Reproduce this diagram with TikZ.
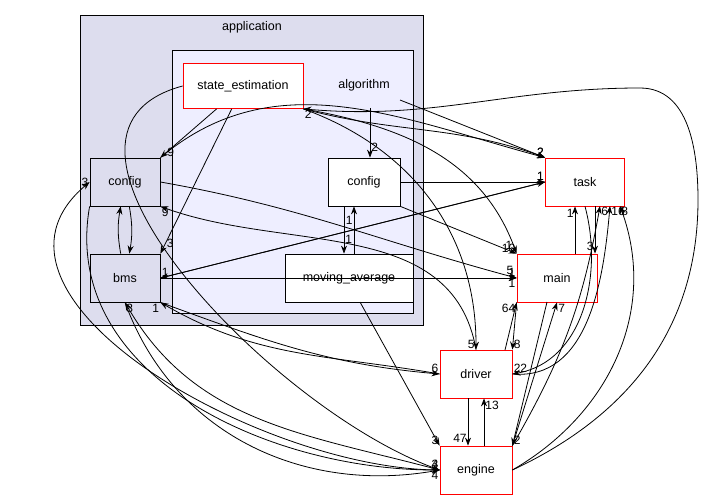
\documentclass[tikz,border=0pt]{standalone}
\usepackage{fontspec}
\setmainfont{Liberation Sans}
\usetikzlibrary{arrows.meta}
\definecolor{clusterfill}{HTML}{DDDDEE}
\definecolor{innerfill}{HTML}{EEEEFF}
\tikzset{
  dirbox/.style={draw=black, fill=white, minimum height=48pt, inner sep=2pt},
  redbox/.style={dirbox, draw=red},
  greybox/.style={dirbox, fill=clusterfill},
  dep/.style={-{Stealth[length=8pt,width=6pt]}, black},
  cnt/.style={font=\fontsize{12}{13}\selectfont, inner sep=1pt}
}
\begin{document}
\begin{tikzpicture}[x=1pt, y=-1pt, line width=0.8pt, every node/.style={font=\fontsize{12.5}{14}\selectfont}]

  \useasboundingbox (0,0) rectangle (703,500);

  % clusters
  \draw[fill=clusterfill] (80,15) rectangle (423,325);
  \node at (252,27) {application};
  \draw[fill=innerfill] (172,50) rectangle (413,313);
  \node (algo) at (364,85) {algorithm};

  % directories
  \node[redbox, minimum width=120pt, minimum height=45pt] (state) at (243,86) {state\_estimation};
  \node[greybox, minimum width=70pt] (cfgapp) at (125,182) {config};
  \node[greybox, minimum width=70pt] (bms) at (125,278) {bms};
  \node[dirbox, minimum width=72pt] (cfgalg) at (364,182) {config};
  \node[dirbox, minimum width=128pt] (mavg) at (349,278) {moving\_average};
  \node[redbox, minimum width=79pt] (task) at (585,182) {task};
  \node[redbox, minimum width=80pt] (main) at (557,278) {main};
  \node[redbox, minimum width=72pt] (driver) at (476,374) {driver};
  \node[redbox, minimum width=72pt] (engine) at (476,470) {engine};

  % dependencies
  \coordinate (a0) at (370,108);
  \draw[dep] (a0) -- (cfgalg.north -| a0) node[cnt, pos=.8, right] {2};
  \draw[dep] (400,100) -- (task.north west);
  \draw[dep] (state) -- (cfgapp.north east) node[cnt, pos=.9, right] {9};
  \draw[dep] (state) -- (bms.north east) node[cnt, pos=.93, right] {3};
  \draw[dep] (state.south east) to[out=-15,in=160] (task.north west) node[cnt, above left] {2};
  \draw[dep] (state.south east) to[out=-10,in=110] (main.north west) node[cnt, above left] {10};
  \draw[dep] (state.south east) to[out=-20,in=90] (driver.north) node[cnt, above left] {5};
  \draw[dep] (state.west) to[out=195,in=160] (engine.west) node[cnt, above left] {3};
  \draw[dep] (cfgapp) to[out=-80,in=80] (bms) node[cnt, pos=.85, left] {3};
  \draw[dep] (bms) to[out=100,in=-100] (cfgapp) node[cnt, pos=.8, left] {1};
  \draw[dep] (cfgapp.north east) to[out=40,in=165] (task.north west) node[cnt, above left] {2};
  \draw[dep] (cfgapp.east) to[out=-10,in=165] (main.west) node[cnt, above left=2pt] {5};
  \draw[dep] (cfgapp.south west) to[out=-100,in=180] (engine.west) node[cnt, above left] {4};
  \draw[dep] (bms.east) -- (task.west) node[cnt, above left] {1};
  \draw[dep] (task.west) -- (bms.east) node[cnt, above right] {1};
  \draw[dep] (bms.east) -- (main.west) node[cnt, below left] {1};
  \draw[dep] (bms.south east) to[out=-20,in=175] (driver.west) node[cnt, above left] {6};
  \draw[dep] (driver.west) to[out=170,in=-30] (bms.south east) node[cnt, below left] {1};
  \draw[dep] (bms.south) to[out=-70,in=190] (engine.west) node[cnt, below left] {4};
  \draw[dep] (engine.west) to[out=165,in=-60] (bms.south) node[cnt, below right] {3};
  \draw[dep] (cfgalg.east) -- (task.west) node[cnt, above left] {1};
  \draw[dep] (cfgalg.south east) -- (main.north west) node[cnt, above left=3pt] {1};
  \coordinate (c0) at (344,206);
  \draw[dep] (c0) -- (mavg.north -| c0) node[cnt, pos=.7, right] {1};
  \coordinate (m0) at (354,254);
  \draw[dep] (m0) -- (cfgalg.south -| m0) node[cnt, pos=.7, left] {1};
  \draw[dep] (mavg.east) -- (main.west) node[cnt, above left] {1};
  \coordinate (m1) at (360,302);
  \draw[dep] (m1) -- (engine.north west) node[cnt, above left] {3};
  \coordinate (t0) at (575,254);
  \draw[dep] (t0) -- (task.south -| t0) node[cnt, pos=.85, left] {1};
  \coordinate (t1) at (595,206);
  \draw[dep] (t1) -- (main.north -| t1) node[cnt, pos=.85, left] {3};
  \draw[dep] (main.south west) -- (driver.north east) node[cnt, above right] {8};
  \coordinate (d0) at (505,350);
  \draw[dep] (d0) -- (main.south west) node[cnt, below left] {64};
  \draw[dep] (task.south) to[out=-75,in=10] (driver.east) node[cnt, above right] {22};
  \draw[dep] (driver.east) to[out=-5,in=-95] (610,206) node[cnt, below right] {16};
  \coordinate (d1) at (468,398);
  \draw[dep] (d1) -- (engine.north -| d1) node[cnt, pos=.85, left] {47};
  \coordinate (e0) at (484,446);
  \draw[dep] (e0) -- (driver.south -| e0) node[cnt, pos=.85, right] {13};
  \draw[dep] (engine.north east) -- (main.south) node[cnt, below right] {7};
  \coordinate (m2) at (547,302);
  \draw[dep] (m2) -- (engine.north east) node[cnt, above right] {2};
  \draw[dep] (engine.east) to[out=30,in=-70] (620,206) node[cnt, below right] {8};
  \draw[dep] (engine.north east) to[out=60,in=-100] (600,206) node[cnt, below right] {6};
  \draw[dep] (driver.north) to[out=100,in=-20] (cfgapp.south east) node[cnt, below right] {9};
  \draw[dep] (engine.west) to[out=180,in=-140] (cfgapp.west) node[cnt, left] {3};
  \draw[dep] (engine.east) to[out=25,in=-90] (698,200) to[out=90,in=0] (640,88) to[out=180,in=-5] (state.south east) node[cnt, below right] {2};

\end{tikzpicture}
\end{document}
